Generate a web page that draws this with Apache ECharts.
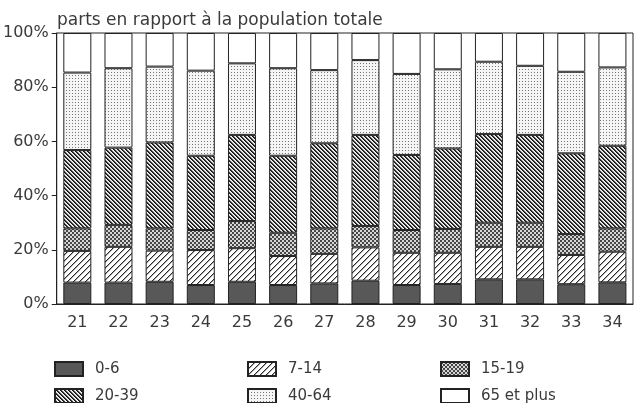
<!DOCTYPE html>
<html><head><meta charset="utf-8">
<script src="https://cdn.jsdelivr.net/npm/echarts@6/dist/echarts.min.js"></script>
<style>html,body{margin:0;padding:0;background:#fff}#c{width:638px;height:403px}</style>
</head><body><div id="c"></div>
<script>
const categories = ['21','22','23','24','25','26','27','28','29','30','31','32','33','34'];
const s0_6   = [7.9,7.9,8.2,7.0,8.2,7.0,7.6,8.6,7.0,7.4,9.1,9.1,7.3,8.0];
const s7_14  = [11.7,13.2,11.5,12.9,12.4,10.7,10.9,12.3,11.9,11.5,12.0,12.0,10.8,11.3];
const s15_19 = [8.3,8.1,8.2,7.4,10.0,8.6,9.4,7.9,8.4,8.8,8.9,8.9,7.7,8.6];
const s20_39 = [28.9,28.5,31.7,27.4,31.8,28.4,31.4,33.6,27.7,29.7,32.7,32.4,29.8,30.5];
const s40_64 = [28.6,29.3,28.0,31.4,26.4,32.3,27.0,27.6,29.9,29.2,26.7,25.5,30.1,28.9];
const s65    = [14.6,13.0,12.4,13.9,11.2,13.0,13.7,10.0,15.1,13.4,10.6,12.1,14.3,12.7];
const seriesNames = ['0-6','7-14','15-19','20-39','40-64','65 et plus'];
const yTicks = [0,20,40,60,80,100];

function tile(n, fn) {
  const c = document.createElement('canvas');
  c.width = n; c.height = n;
  const ctx = c.getContext('2d');
  const img = ctx.createImageData(n, n);
  for (let y = 0; y < n; y++) for (let x = 0; x < n; x++) {
    const v = fn(x, y);
    const i = (y * n + x) * 4;
    img.data[i] = v; img.data[i+1] = v; img.data[i+2] = v; img.data[i+3] = 255;
  }
  ctx.putImageData(img, 0, 0);
  return { image: c, repeat: 'repeat' };
}
const fills = [
  '#585858',
  tile(6, (x, y) => ((x + y) % 6 === 0 ? 40 : ((x + y) % 6 === 1 ? 170 : 255))),
  tile(4, (x, y) => ((Math.floor(x/2) + Math.floor(y/2)) % 2 === 0 ? 70 : 215)),
  tile(4, (x, y) => { const d = ((x - y) % 4 + 4) % 4; return d === 0 ? 20 : (d === 1 ? 60 : (d === 2 ? 210 : 245)); }),
  tile(3, (x, y) => ((x % 3 === 0 && y % 3 === 0) ? 120 : 245)),
  '#ffffff'
];
const datas = [s0_6, s7_14, s15_19, s20_39, s40_64, s65];

const font = 'DejaVu Sans';
const legendPos = [[54,361],[247,361],[440,361],[54,388],[247,388],[440,388]];
const legendOrder = ['0-6','7-14','15-19','20-39','40-64','65 et plus'];
const chart = echarts.init(document.getElementById('c'), null, { renderer: 'canvas' });
chart.setOption({
  animation: false,
  backgroundColor: '#fff',
  title: { text: 'parts en rapport à la population totale', left: 52, top: 7,
    textStyle: { fontFamily: font, fontSize: 17, fontWeight: 'normal', color: '#3a3a3a' } },
  grid: { left: 55, right: 5, top: 33, bottom: 99, show: true, borderColor: '#222', borderWidth: 1 },
  legend: legendOrder.map((n, i) => ({
    left: legendPos[i][0], top: legendPos[i][1], padding: 0, icon: 'rect',
    itemWidth: 28, itemHeight: 14, data: [n], selectedMode: false,
    textStyle: { fontFamily: font, fontSize: 15, color: '#3a3a3a', padding: [0, 0, 0, 7] }
  })),
  xAxis: { type: 'category', data: categories,
    axisLine: { lineStyle: { color: '#222' } }, axisTick: { show: false },
    axisLabel: { fontFamily: font, fontSize: 16, color: '#3a3a3a', margin: 11 } },
  yAxis: { type: 'value', min: yTicks[0], max: yTicks[yTicks.length-1], interval: 20,
    axisLine: { show: true, lineStyle: { color: '#222' } },
    axisTick: { show: true, length: 5, lineStyle: { color: '#222' } },
    splitLine: { show: false },
    axisLabel: { fontFamily: font, fontSize: 16, color: '#3a3a3a', margin: 8, formatter: '{value}%' } },
  series: seriesNames.map((n, i) => ({
    name: n, type: 'bar', stack: 'total', data: datas[i], barCategoryGap: '32%',
    itemStyle: { color: fills[i], borderColor: '#222', borderWidth: 1 }
  }))
});
</script></body></html>
